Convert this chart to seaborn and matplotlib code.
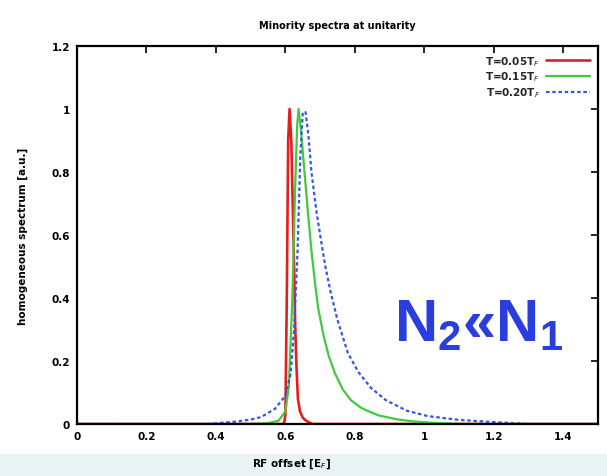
import numpy as np
import pandas as pd
import matplotlib
matplotlib.use("Agg")
import matplotlib.pyplot as plt
import seaborn as sns
from matplotlib.patches import Rectangle

# ---- data ----
title = "Minority spectra at unitarity"
series_labels = ["T=0.05T$_F$", "T=0.15T$_F$", "T=0.20T$_F$"]
annotation = "N$_2$«N$_1$"

red_x = [0.0, 0.5, 0.596, 0.600, 0.604, 0.608, 0.612, 0.617, 0.621, 0.625,
         0.628, 0.632, 0.636, 0.642, 0.650, 0.660, 0.670, 0.680, 1.5]
red_y = [0.0, 0.0, 0.0, 0.03, 0.40, 0.90, 1.0, 0.90, 0.70, 0.50,
         0.32, 0.18, 0.08, 0.04, 0.02, 0.01, 0.004, 0.0, 0.0]

green_x = [0.0, 0.50, 0.55, 0.58, 0.60, 0.61, 0.62, 0.628, 0.634, 0.638, 0.645,
           0.655, 0.665, 0.675, 0.685, 0.694, 0.71, 0.725, 0.743, 0.765, 0.789,
           0.82, 0.866, 0.92, 0.97, 1.02, 1.10, 1.5]
green_y = [0.0, 0.0, 0.003, 0.01, 0.04, 0.12, 0.40, 0.75, 0.95, 1.0, 0.93,
           0.80, 0.67, 0.55, 0.45, 0.37, 0.28, 0.215, 0.16, 0.11, 0.075,
           0.05, 0.028, 0.015, 0.008, 0.004, 0.0, 0.0]

blue_x = [0.0, 0.38, 0.42, 0.46, 0.50, 0.53, 0.57, 0.60, 0.615, 0.625, 0.635,
          0.643, 0.650, 0.658, 0.666, 0.675, 0.69, 0.703, 0.715, 0.73, 0.75,
          0.78, 0.81, 0.846, 0.89, 0.95, 1.01, 1.10, 1.20, 1.30, 1.5]
blue_y = [0.0, 0.0, 0.004, 0.008, 0.014, 0.022, 0.048, 0.09, 0.16, 0.30, 0.55,
          0.85, 0.99, 0.99, 0.92, 0.80, 0.67, 0.58, 0.50, 0.42, 0.33,
          0.225, 0.165, 0.115, 0.075, 0.042, 0.025, 0.013, 0.006, 0.0, 0.0]

x_ticks = [0, 0.2, 0.4, 0.6, 0.8, 1.0, 1.2, 1.4]
x_ticklabels = ["0", "0.2", "0.4", "0.6", "0.8", "1", "1.2", "1.4"]
y_ticks = [0, 0.2, 0.4, 0.6, 0.8, 1.0, 1.2]
y_ticklabels = ["0", "0.2", "0.4", "0.6", "0.8", "1", "1.2"]

sns.set_style("white")
plt.rcParams["font.family"] = ["DejaVu Sans"]

fig = plt.figure(figsize=(6.07, 4.77), dpi=100)
fig.patch.set_facecolor("white")
# light band at bottom of the slide
fig.add_artist(Rectangle((0, 0), 1, 22 / 477, transform=fig.transFigure,
                         facecolor="#e9f3f3", edgecolor="none", zorder=-1))

ax = fig.add_axes([77 / 607, 52 / 477, (598 - 77) / 607, (425 - 47) / 477])
ax.set_facecolor("white")

colors = ["#e41e1e", "#44c83c", "#3a55e0"]
styles = ["-", "-", (0, (1.6, 1.2))]
widths = [1.9, 1.6, 1.6]
for xs, ys, lab, c, ls, lw in zip([red_x, green_x, blue_x], [red_y, green_y, blue_y],
                                  series_labels, colors, styles, widths):
    df = pd.DataFrame({"x": xs, "y": ys})
    sns.lineplot(data=df, x="x", y="y", ax=ax, color=c, linestyle=ls,
                 linewidth=lw, label=lab, sort=False)

ax.set_xlim(0, 1.5)
ax.set_ylim(0, 1.2)
ax.set_xticks(x_ticks)
ax.set_xticklabels(x_ticklabels)
ax.set_yticks(y_ticks)
ax.set_yticklabels(y_ticklabels)
ax.tick_params(direction="in", top=True, right=True, length=5, width=1.2,
               labelsize=7.5, pad=5, colors="black")
for lab in ax.get_xticklabels() + ax.get_yticklabels():
    lab.set_fontweight("bold")
for s in ax.spines.values():
    s.set_linewidth(1.6)
    s.set_color("black")

ax.set_title(title, fontsize=7, fontweight="bold", pad=13, color="black")
ax.set_xlabel("RF offset [E$_F$]", fontsize=7.5, fontweight="bold", color="black")
ax.set_ylabel("homogeneous spectrum [a.u.]", fontsize=7.5, fontweight="bold",
              color="black")
ax.xaxis.set_label_coords((291 - 77) / (598 - 77), -0.085)
ax.yaxis.set_label_coords(-0.095, 0.5)

leg = ax.legend(loc="upper right", frameon=False, markerfirst=False,
                handlelength=4.2, labelspacing=0.2,
                borderaxespad=0.35, handletextpad=0.6,
                prop={"weight": "bold", "size": 7.5})

# big annotation (Arial-metric font, bold)
plt.rcParams["mathtext.fontset"] = "custom"
plt.rcParams["mathtext.rm"] = "Liberation Sans:bold"
plt.rcParams["mathtext.it"] = "Liberation Sans:bold"
plt.rcParams["mathtext.bf"] = "Liberation Sans:bold"
ax.text(0.912, 0.265, annotation, transform=ax.transData, fontsize=43,
        color="#2a3ee0", ha="left", va="baseline",
        family=["Liberation Sans", "DejaVu Sans"], fontweight="bold")

fig.savefig("out.png", dpi=100)
